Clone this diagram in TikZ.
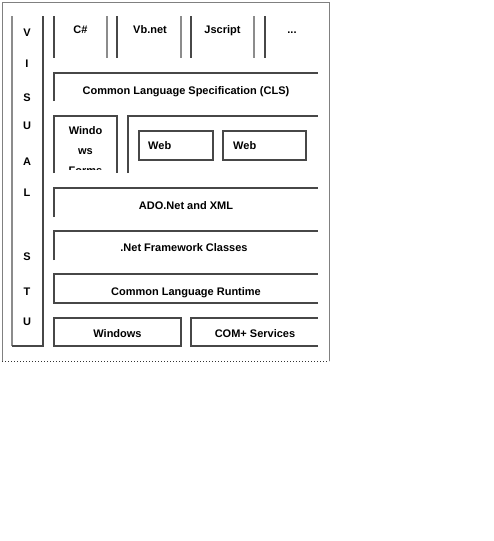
\documentclass[tikz,border=0pt]{standalone}
\usepackage{fontspec}
\setmainfont{Liberation Sans}
\begin{document}
\begin{tikzpicture}[x=1pt,y=-1pt,
  ln/.style={draw=black!72, line width=1.1pt},
  lightln/.style={draw=black!45, line width=1.6pt},
  frameln/.style={draw=black!50, line width=1pt},
  lbl/.style={font=\fontsize{11}{20}\selectfont\bfseries, inner sep=0pt, text=black, anchor=base},
  vl/.style={lbl}]
\useasboundingbox (0,0) rectangle (494,541);
\fill[white] (0,0) rectangle (494,541);
% outer frame
\draw[frameln] (2,361) -- (2,2) -- (329,2) -- (329,361);
\draw[draw=black!80, line width=1pt, dotted] (2,361) -- (329,361);
% left column
\draw[lightln] (12,16) -- (12,346);
\draw[ln] (12,346) -- (43,346) -- (43,16);
\foreach \ch/\yy [count=\i] in {V/36,I/67,S/101,U/129,A/165,L/196,S/260,T/295,U/325}
  \node[vl] (v\i) at (27,\yy) {\ch};
% top row
\draw[ln] (54,16) -- (54,58);
\draw[lightln] (107,16) -- (107,58);
\draw[ln] (117,16) -- (117,58);
\draw[lightln] (181,16) -- (181,58);
\draw[ln] (191,16) -- (191,58);
\draw[lightln] (254,16) -- (254,58);
\draw[ln] (265,16) -- (265,58);
\node[lbl] (cs) at (80.5,33) {C\#};
\node[lbl] (vb) at (150,33) {Vb.net};
\node[lbl] (js) at (222.5,33) {Jscript};
\node[lbl] (dots) at (292,33) {...};
% CLS
\draw[ln] (54,101) -- (54,73) -- (318,73);
\node[lbl] (cls) at (186,94) {Common Language Specification (CLS)};
% Windows Forms
\draw[ln] (54,173) -- (54,116) -- (117,116) -- (117,173);
\begin{scope}
  \clip (54,116) rectangle (117,169.8);
  \node[lbl] (wf1) at (85.5,134) {Windo};
  \node[lbl] (wf2) at (85.5,154) {ws};
  \node[lbl] (wf3) at (85.5,174) {Forms};
\end{scope}
% Web group
\draw[ln] (128,173) -- (128,116) -- (318,116);
\draw[ln] (139,131) rectangle (213,160);
\draw[ln] (223,131) rectangle (306,160);
\node[lbl, anchor=base west] (web1) at (148,149) {Web};
\node[lbl, anchor=base west] (web2) at (233,149) {Web};
% ADO
\draw[ln] (54,217) -- (54,188) -- (318,188);
\node[lbl] (ado) at (186,209) {ADO.Net and XML};
% .Net Framework
\draw[ln] (54,260) -- (54,231) -- (318,231);
\node[lbl] (fw) at (184,251) {.Net Framework Classes};
% CLR
\draw[ln] (318,303) -- (54,303) -- (54,274) -- (318,274);
\node[lbl] (clr) at (186,295) {Common Language Runtime};
% Windows
\draw[ln] (54,318) rectangle (181,346);
\node[lbl] (win) at (117.5,337) {Windows};
% COM+
\draw[ln] (318,346) -- (191,346) -- (191,318) -- (318,318);
\node[lbl] (com) at (255,337) {COM+ Services};
\end{tikzpicture}
\end{document}
